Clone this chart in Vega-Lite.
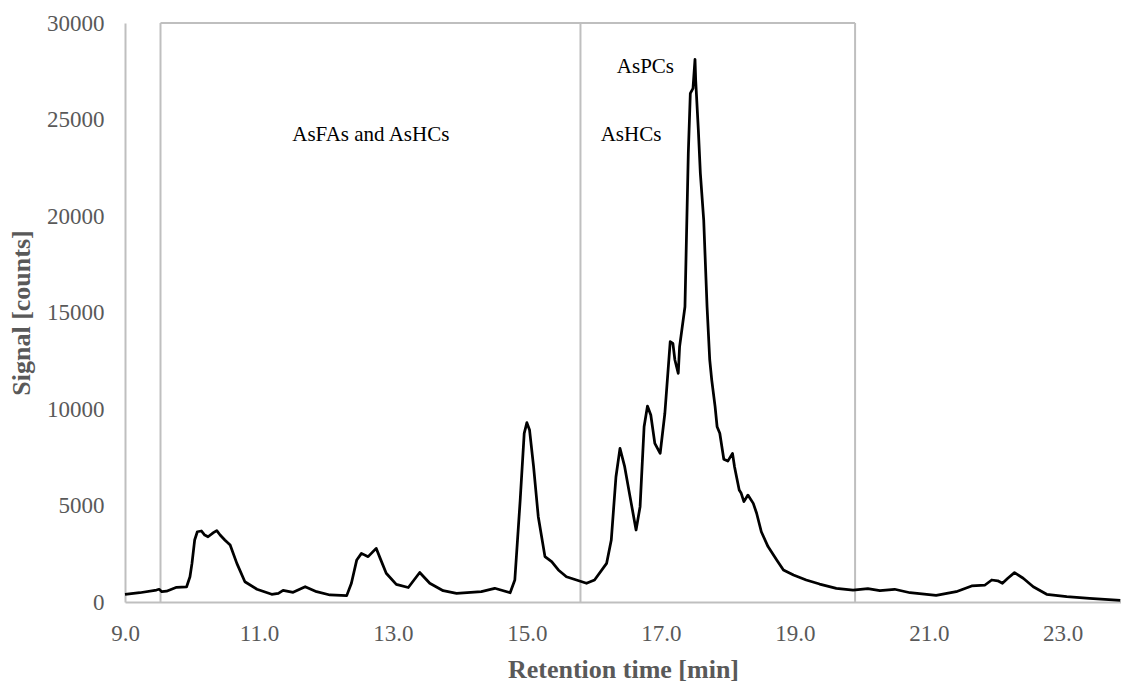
{
  "$schema": "https://vega.github.io/schema/vega-lite/v6.json",
  "width": 996,
  "height": 579,
  "autosize": {"type": "none"},
  "padding": {"left": 125, "top": 23, "right": 0, "bottom": 80},
  "background": "white",
  "config": {
    "view": {"stroke": null},
    "font": "Times New Roman, Liberation Serif, serif",
    "axis": {
      "grid": false,
      "ticks": false,
      "domainColor": "#bfbfbf",
      "domainWidth": 2,
      "labelColor": "#595959",
      "labelFontSize": 23,
      "labelFont": "Times New Roman, Liberation Serif, serif",
      "titleColor": "#595959",
      "titleFontSize": 26,
      "titleFontWeight": "bold",
      "titleFont": "Times New Roman, Liberation Serif, serif"
    }
  },
  "datasets": {
    "chromatogram": [
      {"time": 9.00, "signal": 400},
      {"time": 9.22, "signal": 480},
      {"time": 9.47, "signal": 620},
      {"time": 9.51, "signal": 660},
      {"time": 9.55, "signal": 535},
      {"time": 9.62, "signal": 560},
      {"time": 9.77, "signal": 760},
      {"time": 9.92, "signal": 790},
      {"time": 9.97, "signal": 1310},
      {"time": 10.00, "signal": 2000},
      {"time": 10.04, "signal": 3210},
      {"time": 10.08, "signal": 3640},
      {"time": 10.14, "signal": 3680},
      {"time": 10.19, "signal": 3470},
      {"time": 10.24, "signal": 3380},
      {"time": 10.32, "signal": 3590},
      {"time": 10.37, "signal": 3700},
      {"time": 10.42, "signal": 3470},
      {"time": 10.49, "signal": 3210},
      {"time": 10.57, "signal": 2950},
      {"time": 10.67, "signal": 2000},
      {"time": 10.79, "signal": 1050},
      {"time": 10.97, "signal": 660},
      {"time": 11.19, "signal": 400},
      {"time": 11.29, "signal": 450},
      {"time": 11.36, "signal": 605},
      {"time": 11.51, "signal": 500},
      {"time": 11.69, "signal": 790},
      {"time": 11.86, "signal": 535},
      {"time": 12.06, "signal": 363},
      {"time": 12.31, "signal": 330},
      {"time": 12.38, "signal": 970},
      {"time": 12.46, "signal": 2180},
      {"time": 12.53, "signal": 2520},
      {"time": 12.63, "signal": 2350},
      {"time": 12.75, "signal": 2780},
      {"time": 12.81, "signal": 2260},
      {"time": 12.90, "signal": 1490},
      {"time": 13.05, "signal": 915},
      {"time": 13.23, "signal": 750},
      {"time": 13.40, "signal": 1530},
      {"time": 13.55, "signal": 970},
      {"time": 13.75, "signal": 585},
      {"time": 13.95, "signal": 450},
      {"time": 14.32, "signal": 535},
      {"time": 14.52, "signal": 710},
      {"time": 14.75, "signal": 480},
      {"time": 14.82, "signal": 1140},
      {"time": 14.90, "signal": 5280},
      {"time": 14.96, "signal": 8740},
      {"time": 15.00, "signal": 9290},
      {"time": 15.04, "signal": 8910},
      {"time": 15.10, "signal": 7010},
      {"time": 15.17, "signal": 4420},
      {"time": 15.27, "signal": 2350},
      {"time": 15.37, "signal": 2090},
      {"time": 15.47, "signal": 1660},
      {"time": 15.59, "signal": 1310},
      {"time": 15.74, "signal": 1140},
      {"time": 15.89, "signal": 970},
      {"time": 16.01, "signal": 1140},
      {"time": 16.19, "signal": 2000},
      {"time": 16.26, "signal": 3210},
      {"time": 16.33, "signal": 6490},
      {"time": 16.39, "signal": 7960},
      {"time": 16.46, "signal": 7010},
      {"time": 16.54, "signal": 5460},
      {"time": 16.63, "signal": 3730},
      {"time": 16.69, "signal": 4940},
      {"time": 16.75, "signal": 9080},
      {"time": 16.80, "signal": 10150},
      {"time": 16.85, "signal": 9690},
      {"time": 16.91, "signal": 8220},
      {"time": 16.99, "signal": 7700},
      {"time": 17.06, "signal": 9780},
      {"time": 17.14, "signal": 13490},
      {"time": 17.18, "signal": 13400},
      {"time": 17.21, "signal": 12540},
      {"time": 17.26, "signal": 11850},
      {"time": 17.28, "signal": 13230},
      {"time": 17.36, "signal": 15300},
      {"time": 17.41, "signal": 23250},
      {"time": 17.44, "signal": 26350},
      {"time": 17.48, "signal": 26610},
      {"time": 17.51, "signal": 28120},
      {"time": 17.52, "signal": 27050},
      {"time": 17.56, "signal": 24450},
      {"time": 17.59, "signal": 22210},
      {"time": 17.64, "signal": 19790},
      {"time": 17.69, "signal": 15300},
      {"time": 17.73, "signal": 12540},
      {"time": 17.76, "signal": 11500},
      {"time": 17.81, "signal": 10120},
      {"time": 17.84, "signal": 9080},
      {"time": 17.88, "signal": 8740},
      {"time": 17.94, "signal": 7400},
      {"time": 18.00, "signal": 7300},
      {"time": 18.07, "signal": 7700},
      {"time": 18.10, "signal": 7010},
      {"time": 18.13, "signal": 6490},
      {"time": 18.17, "signal": 5800},
      {"time": 18.20, "signal": 5630},
      {"time": 18.24, "signal": 5200},
      {"time": 18.30, "signal": 5540},
      {"time": 18.38, "signal": 5110},
      {"time": 18.43, "signal": 4600},
      {"time": 18.50, "signal": 3640},
      {"time": 18.60, "signal": 2870},
      {"time": 18.73, "signal": 2180},
      {"time": 18.83, "signal": 1660},
      {"time": 18.98, "signal": 1400},
      {"time": 19.17, "signal": 1140},
      {"time": 19.37, "signal": 930},
      {"time": 19.62, "signal": 710},
      {"time": 19.87, "signal": 620},
      {"time": 20.09, "signal": 690},
      {"time": 20.27, "signal": 585},
      {"time": 20.49, "signal": 660},
      {"time": 20.72, "signal": 480},
      {"time": 21.11, "signal": 345},
      {"time": 21.41, "signal": 535},
      {"time": 21.64, "signal": 830},
      {"time": 21.84, "signal": 880},
      {"time": 21.94, "signal": 1140},
      {"time": 22.03, "signal": 1100},
      {"time": 22.10, "signal": 970},
      {"time": 22.18, "signal": 1230},
      {"time": 22.28, "signal": 1520},
      {"time": 22.41, "signal": 1230},
      {"time": 22.56, "signal": 790},
      {"time": 22.76, "signal": 400},
      {"time": 23.06, "signal": 275},
      {"time": 23.40, "signal": 190},
      {"time": 23.86, "signal": 80}
    ],
    "windowEdges": [
      {"time": 9.53, "signal": 0, "signal2": 30000},
      {"time": 15.8, "signal": 0, "signal2": 30000},
      {"time": 19.9, "signal": 0, "signal2": 30000}
    ],
    "windowTop": [
      {"time": 9.53, "time2": 19.9, "signal": 30000}
    ],
    "labels": [
      {"time": 12.67, "signal": 23900, "text": "AsFAs and AsHCs"},
      {"time": 16.555, "signal": 23900, "text": "AsHCs"},
      {"time": 16.77, "signal": 27390, "text": "AsPCs"}
    ]
  },
  "layer": [
    {
      "data": {"name": "windowEdges"},
      "mark": {"type": "rule", "color": "#bfbfbf", "strokeWidth": 2},
      "encoding": {
        "x": {"field": "time", "type": "quantitative"},
        "y": {"field": "signal", "type": "quantitative"},
        "y2": {"field": "signal2"}
      }
    },
    {
      "data": {"name": "windowTop"},
      "mark": {"type": "rule", "color": "#bfbfbf", "strokeWidth": 2},
      "encoding": {
        "x": {"field": "time", "type": "quantitative"},
        "x2": {"field": "time2"},
        "y": {"field": "signal", "type": "quantitative"}
      }
    },
    {
      "data": {"name": "chromatogram"},
      "mark": {"type": "line", "color": "black", "strokeWidth": 2.75, "strokeJoin": "round"},
      "encoding": {
        "x": {
          "field": "time",
          "type": "quantitative",
          "scale": {"domain": [9, 23.87], "nice": false, "zero": false},
          "axis": {
            "title": "Retention time [min]",
            "values": [9, 11, 13, 15, 17, 19, 21, 23],
            "format": ".1f",
            "labelFlush": false,
            "labelBaseline": "alphabetic",
            "labelPadding": 38,
            "titleBaseline": "alphabetic",
            "titleY": 75
          }
        },
        "y": {
          "field": "signal",
          "type": "quantitative",
          "scale": {"domain": [0, 30000], "nice": false},
          "axis": {
            "title": "Signal [counts]",
            "values": [0, 5000, 10000, 15000, 20000, 25000, 30000],
            "format": "d",
            "labelFlush": false,
            "labelPadding": 21,
            "titleBaseline": "alphabetic",
            "titleX": -96,
            "titleY": 289.5,
            "titleAlign": "center",
            "titleAngle": -90
          }
        }
      }
    },
    {
      "data": {"name": "labels"},
      "mark": {"type": "text", "fontSize": 21, "color": "black", "align": "center", "baseline": "alphabetic", "font": "Times New Roman, Liberation Serif, serif"},
      "encoding": {
        "x": {"field": "time", "type": "quantitative"},
        "y": {"field": "signal", "type": "quantitative"},
        "text": {"field": "text"}
      }
    }
  ]
}
